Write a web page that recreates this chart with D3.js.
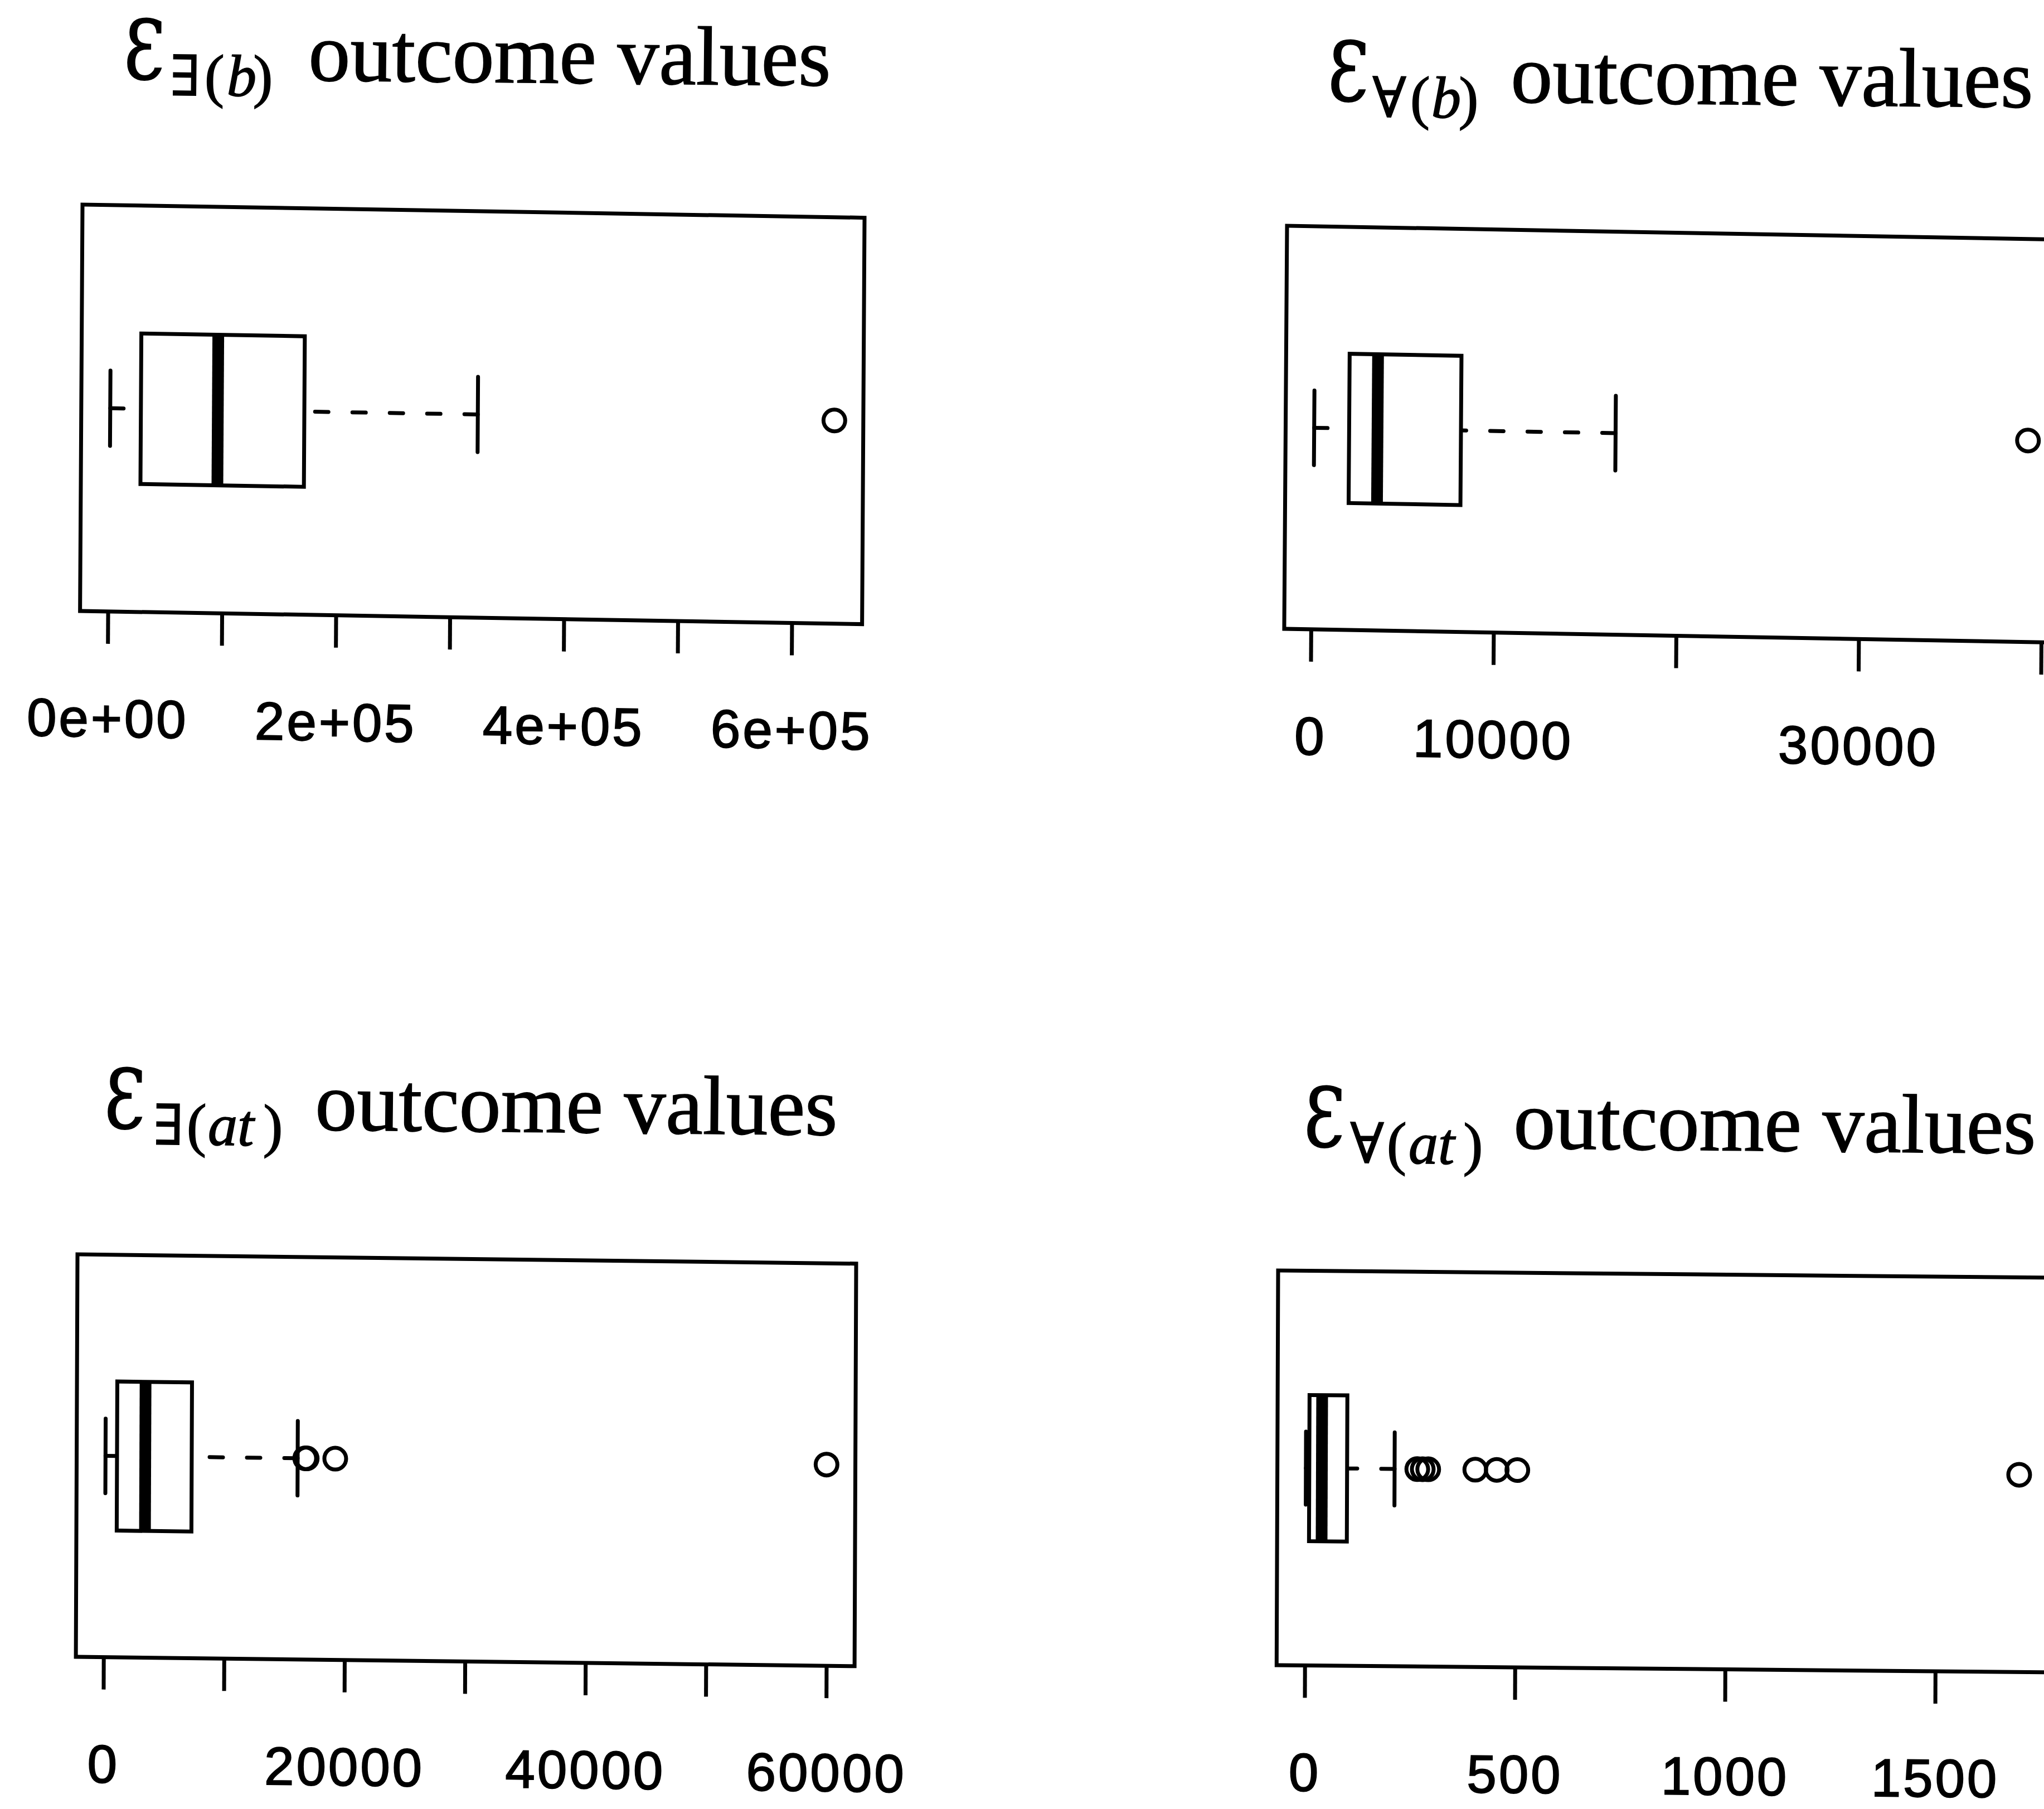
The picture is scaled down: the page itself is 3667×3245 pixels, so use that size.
<!DOCTYPE html>
<html>
<head>
<meta charset="utf-8">
<script src="https://cdn.jsdelivr.net/npm/d3@7"></script>
<style>
  html, body { margin: 0; padding: 0; background: #fff; }
  svg { display: block; }
</style>
</head>
<body>
<svg id="chart" width="3667" height="3245"></svg>
<script>
// ---- Data: box statistics [lower whisker, Q1, median, Q3, upper whisker] and outliers ----
const statsExistsB = [1000, 27900, 95400, 171300, 323500];
const outliersExistsB = [636300];

const statsForallB = [100, 2015, 3570, 8140, 16610];
const outliersForallB = [39200];

const statsExistsAt = [100, 1055, 3400, 7255, 16050];
const outliersExistsAt = [16680, 16800, 19170, 59950];

const statsForallAt = [1, 9, 39, 99, 212];
const outliersForallAt = [266, 279, 292, 404, 455, 504, 1698];

// ---- Axis ticks and the labels printed under them ("" = tick without label) ----
const ticksExistsB = [0, 1e5, 2e5, 3e5, 4e5, 5e5, 6e5];
const tickLabelsExistsB = ["0e+00", "", "2e+05", "", "4e+05", "", "6e+05"];

const ticksForallB = [0, 10000, 20000, 30000, 40000];
const tickLabelsForallB = ["0", "10000", "", "30000", ""];

const ticksExistsAt = [0, 10000, 20000, 30000, 40000, 50000, 60000];
const tickLabelsExistsAt = ["0", "", "20000", "", "40000", "", "60000"];

const ticksForallAt = [0, 500, 1000, 1500];
const tickLabelsForallAt = ["0", "500", "1000", "1500"];

// ---- Panel titles: calligraphic E, quantifier symbol and subscript variable ----
const titleSymbol = "Ɛ";
const titleQuantifiers = ["∃", "∀", "∃", "∀"];
const titleVariables = ["b", "b", "at", "at"];
const titleText = "outcome values";

// ---- Layout (frame placement, slight page skew, title placement) ----
const panels = [
  { stats: statsExistsB, outliers: outliersExistsB, ticks: ticksExistsB, labels: tickLabelsExistsB,
    frame: { x0: 148, y0: 367, w: 1403, h: 729, kx: 0.0168, ky: -0.006 },
    title: { x: 222, y: 141, off: [83, 145, 185, 232], main: 331 } },
  { stats: statsForallB, outliers: outliersForallB, ticks: ticksForallB, labels: tickLabelsForallB,
    frame: { x0: 2309, y0: 405, w: 1383, h: 723, kx: 0.0178, ky: -0.007 },
    title: { x: 2382, y: 180, off: [80, 148, 186, 235], main: 328 } },
  { stats: statsExistsAt, outliers: outliersExistsAt, ticks: ticksExistsAt, labels: tickLabelsExistsAt,
    frame: { x0: 139, y0: 2250, w: 1397, h: 722, kx: 0.012, ky: -0.004 },
    title: { x: 187, y: 2023, off: [88, 148, 186, 285], main: 378 } },
  { stats: statsForallAt, outliers: outliersForallAt, ticks: ticksForallAt, labels: tickLabelsForallAt,
    frame: { x0: 2293, y0: 2279, w: 1382, h: 708, kx: 0.0093, ky: -0.0038 },
    title: { x: 2339, y: 2056, off: [83, 149, 188, 286], main: 376 } }
];

const LW = 7;              // base line width
const titleSlopeDeg = 0.57;
const serif = "'Liberation Serif', 'DejaVu Serif', serif";
const svg = d3.select("#chart");

panels.forEach((p, i) => {
  const f = p.frame;
  const g = svg.append("g")
    .attr("transform", `matrix(1,${f.kx},${f.ky},1,${f.x0},${f.y0})`);

  // value scale padded by 4% of the data range on each side
  const all = p.stats.concat(p.outliers);
  const lo = d3.min(all), hi = d3.max(all), pad = 0.04 * (hi - lo);
  const x = d3.scaleLinear().domain([lo - pad, hi + pad]).range([0, f.w]);
  // single box centred at 1, box half-width 0.2, staple half-width 0.1
  const y = d3.scaleLinear().domain([0.46, 1.54]).range([f.h, 0]);

  const [lw, q1, med, q3, uw] = p.stats;

  // whiskers (dashed, drawn from the whisker end toward the hinge)
  g.selectAll("line.whisker")
    .data([[lw, q1], [uw, q3]])
    .join("line")
    .attr("class", "whisker")
    .attr("x1", d => x(d[0])).attr("x2", d => x(d[1]))
    .attr("y1", y(1)).attr("y2", y(1))
    .attr("stroke", "#000").attr("stroke-width", LW)
    .attr("stroke-linecap", "round")
    .attr("stroke-dasharray", "24 43");

  // staples
  g.selectAll("line.staple")
    .data([lw, uw])
    .join("line")
    .attr("class", "staple")
    .attr("x1", d => x(d)).attr("x2", d => x(d))
    .attr("y1", y(1.1)).attr("y2", y(0.9))
    .attr("stroke", "#000").attr("stroke-width", LW)
    .attr("stroke-linecap", "round");

  // box
  g.append("rect")
    .attr("x", x(q1)).attr("width", x(q3) - x(q1))
    .attr("y", y(1.2)).attr("height", y(0.8) - y(1.2))
    .attr("fill", "#fff").attr("stroke", "#000").attr("stroke-width", LW);

  // median
  g.append("line")
    .attr("x1", x(med)).attr("x2", x(med))
    .attr("y1", y(1.2)).attr("y2", y(0.8))
    .attr("stroke", "#000").attr("stroke-width", LW * 3);

  // outliers
  g.selectAll("circle.out")
    .data(p.outliers)
    .join("circle")
    .attr("class", "out")
    .attr("cx", d => x(d)).attr("cy", y(1)).attr("r", 19.5)
    .attr("fill", "none").attr("stroke", "#000").attr("stroke-width", LW);

  // frame
  g.append("rect")
    .attr("x", 0).attr("y", 0).attr("width", f.w).attr("height", f.h)
    .attr("fill", "none").attr("stroke", "#000").attr("stroke-width", LW);

  // bottom axis
  const axis = d3.axisBottom(x)
    .tickValues(p.ticks)
    .tickFormat((d, k) => p.labels[k])
    .tickSize(58)
    .tickSizeOuter(0);
  const ag = g.append("g").attr("transform", `translate(0,${f.h})`).call(axis);
  ag.select(".domain").remove();
  ag.selectAll(".tick line").attr("stroke", "#000").attr("stroke-width", LW);
  ag.selectAll(".tick text")
    .attr("y", 225).attr("dy", 0)
    .attr("fill", "#000")
    .attr("stroke", "#000").attr("stroke-width", 2)
    .style("font-family", "'Liberation Sans', Arial, Helvetica, sans-serif")
    .style("font-size", "96px")
    .style("letter-spacing", "4px");

  // title: symbol with subscript, then the caption
  const t = p.title;
  const tg = svg.append("g")
    .attr("transform", `translate(${t.x},${t.y}) rotate(${titleSlopeDeg})`)
    .attr("fill", "#000").attr("stroke", "#000").attr("stroke-width", 1.6);
  tg.append("text")
    .attr("transform", "scale(0.8,1)")
    .attr("stroke-width", 3)
    .style("font-family", "'DejaVu Serif', serif").style("font-size", "146px")
    .text(titleSymbol);
  const sub = tg.append("text").attr("y", 29).style("font-family", serif);
  sub.append("tspan").attr("x", t.off[0]).style("font-size", "100px")
    .style("font-family", "'DejaVu Serif', serif").text(titleQuantifiers[i]);
  sub.append("tspan").attr("x", t.off[1]).style("font-size", "106px").text("(");
  sub.append("tspan").attr("x", t.off[2]).style("font-size", "106px")
    .style("font-style", "italic").text(titleVariables[i]);
  sub.append("tspan").attr("x", t.off[3]).style("font-size", "106px").text(")");
  tg.append("text").attr("x", t.main)
    .style("font-family", serif).style("font-size", "150px")
    .text(titleText);
});
</script>
</body>
</html>
